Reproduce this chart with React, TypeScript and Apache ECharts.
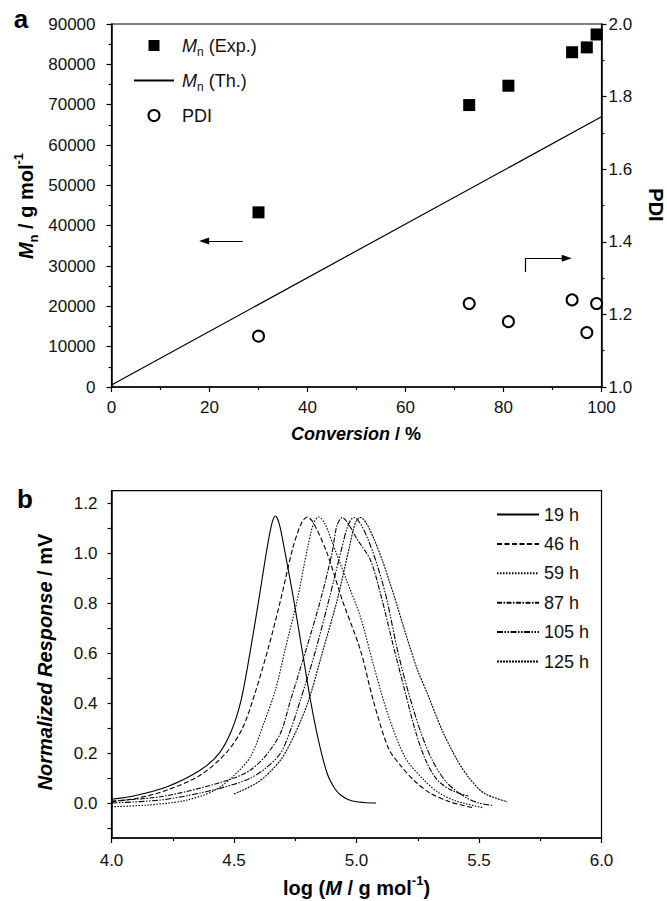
import React, { useEffect, useRef } from 'react';
import * as echarts from 'echarts';

const FONT = '"Liberation Sans", Arial, Helvetica, sans-serif';

// ---- Panel a data ----
const conversion = [30, 73, 81, 94, 97, 99];
const mnExp = [43300, 69900, 74700, 83000, 84200, 87400];
const pdi = [1.14, 1.23, 1.18, 1.24, 1.15, 1.23];
const mnThConversion = [0, 100];
const mnTh = [500, 67000];
// annotation arrows (data coordinates)
const leftArrowX = [26.8, 18.9];
const leftArrowY = 36200;
const rightArrowX = [84.5, 92.9];
const rightArrowY = [28500, 31900];

// ---- Panel b data: log(M) vs normalized response ----
const gpcNames = ['19 h', '46 h', '59 h', '87 h', '105 h', '125 h'];
const gpc19h = [[4.0,0.015],[4.09,0.028],[4.227,0.065],[4.363,0.132],[4.44,0.2],[4.49,0.29],[4.529,0.412],[4.565,0.6],[4.601,0.812],[4.635,1.02],[4.655,1.12],[4.669,1.149],[4.684,1.12],[4.705,1.02],[4.744,0.812],[4.78,0.6],[4.812,0.412],[4.845,0.25],[4.88,0.119],[4.91,0.06],[4.935,0.032],[4.976,0.01],[5.03,0.002],[5.08,0.0]];
const gpc46h = [[4.0,0.005],[4.1,0.018],[4.227,0.052],[4.363,0.112],[4.472,0.205],[4.535,0.3],[4.581,0.425],[4.64,0.62],[4.69,0.812],[4.74,1.02],[4.775,1.12],[4.799,1.145],[4.825,1.12],[4.88,1.0],[4.942,0.812],[5.016,0.612],[5.068,0.412],[5.13,0.22],[5.18,0.15],[5.233,0.092],[5.3,0.04],[5.38,0.005],[5.48,-0.02]];
const gpc59h = [[4.0,-0.015],[4.15,-0.008],[4.3,0.01],[4.42,0.05],[4.5,0.11],[4.567,0.185],[4.622,0.32],[4.669,0.452],[4.71,0.62],[4.758,0.812],[4.8,1.02],[4.825,1.12],[4.846,1.145],[4.87,1.12],[4.91,1.02],[4.96,0.89],[5.016,0.745],[5.07,0.55],[5.13,0.35],[5.2,0.18],[5.275,0.092],[5.33,0.045],[5.4,0.01],[5.52,-0.02]];
const gpc87h = [[4.0,0.008],[4.2,0.025],[4.363,0.06],[4.5,0.1],[4.567,0.132],[4.63,0.19],[4.69,0.28],[4.731,0.412],[4.79,0.6],[4.853,0.812],[4.9,1.0],[4.92,1.11],[4.942,1.143],[4.965,1.12],[5.0,1.06],[5.057,0.972],[5.1,0.83],[5.15,0.63],[5.2,0.439],[5.24,0.29],[5.282,0.172],[5.33,0.092],[5.39,0.05],[5.457,0.028]];
const gpc105h = [[4.0,0.0],[4.2,0.012],[4.363,0.04],[4.5,0.075],[4.567,0.1],[4.63,0.14],[4.69,0.2],[4.73,0.29],[4.771,0.412],[4.83,0.6],[4.887,0.812],[4.94,1.02],[4.965,1.11],[4.989,1.143],[5.015,1.12],[5.045,1.06],[5.078,0.972],[5.12,0.83],[5.17,0.6],[5.213,0.439],[5.26,0.29],[5.309,0.172],[5.37,0.08],[5.45,0.02],[5.5,0.0],[5.56,-0.011]];
const gpc125h = [[4.5,0.036],[4.6,0.085],[4.69,0.172],[4.75,0.28],[4.805,0.412],[4.86,0.6],[4.921,0.812],[4.97,1.02],[4.995,1.12],[5.016,1.143],[5.04,1.12],[5.07,1.06],[5.105,0.972],[5.15,0.84],[5.2,0.68],[5.25,0.53],[5.289,0.439],[5.35,0.29],[5.411,0.172],[5.46,0.1],[5.52,0.04],[5.615,0.005]];
const gpcCurves = [gpc19h, gpc46h, gpc59h, gpc87h, gpc105h, gpc125h];
const gpcDash: any[] = ['solid', [5, 2.5], [1.5, 1.5], [5, 1.5, 1.5, 1.5], [6, 1.5, 1.5, 1.5, 1.5, 1.5], [2, 1]];

const respLabelValues = [0, 0.2, 0.4, 0.6, 0.8, 1.0, 1.2];
const respTickValues = [-0.1, 0, 0.1, 0.2, 0.3, 0.4, 0.5, 0.6, 0.7, 0.8, 0.9, 1.0, 1.1, 1.2];

const BLACK = '#000';

const axisLineStyle = { show: true, onZero: false, lineStyle: { color: BLACK, width: 1.5 } };
const tickStyle = { show: true, length: 5, lineStyle: { color: BLACK, width: 1.2 } };
const minorStyle = { show: true, splitNumber: 2, length: 3, lineStyle: { color: BLACK, width: 1.2 } };
const labelBase = { color: '#111', fontSize: 17, fontFamily: FONT };

const legendRich = {
  it: { fontStyle: 'italic', fontSize: 18, fontFamily: FONT, color: '#111', lineHeight: 24 },
  sub: { fontSize: 12, fontFamily: FONT, color: '#111', verticalAlign: 'bottom', lineHeight: 12 },
  n: { fontSize: 18, fontFamily: FONT, color: '#111', lineHeight: 24 },
};

const titleRich = (size: number) => ({
  bi: { fontStyle: 'italic', fontWeight: 'bold', fontSize: size, fontFamily: FONT, fill: BLACK, lineHeight: size + 8 },
  b: { fontWeight: 'bold', fontSize: size, fontFamily: FONT, fill: BLACK, lineHeight: size + 8 },
  sub: { fontWeight: 'bold', fontSize: Math.round(size * 0.65), fontFamily: FONT, fill: BLACK, verticalAlign: 'bottom', lineHeight: Math.round(size * 0.65) },
  sup: { fontWeight: 'bold', fontSize: Math.round(size * 0.65), fontFamily: FONT, fill: BLACK, verticalAlign: 'top', lineHeight: Math.round(size * 0.65) },
});

function buildOption(): any {
  const fmt1 = (v: number) => v.toFixed(1);
  const fmt0 = (v: number) => String(Math.round(v));
  const hiddenSymbol = { opacity: 0, color: 'transparent', borderWidth: 0 };
  return {
    animation: false,
    backgroundColor: '#fff',
    grid: [
      { left: 111.5, top: 24, width: 490, height: 363, show: true, borderColor: BLACK, borderWidth: 1.2, backgroundColor: 'transparent' },
      { left: 111.5, top: 490.7, width: 490, height: 347.3, show: true, borderColor: BLACK, borderWidth: 1.2, backgroundColor: 'transparent' },
    ],
    xAxis: [
      {
        gridIndex: 0, type: 'value', min: 0, max: 100, interval: 20,
        axisLine: axisLineStyle, axisTick: tickStyle, minorTick: minorStyle, splitLine: { show: false },
        axisLabel: { ...labelBase, margin: 12, formatter: fmt0 },
      },
      {
        gridIndex: 1, type: 'value', min: 4, max: 6, interval: 0.5,
        axisLine: axisLineStyle, axisTick: tickStyle, minorTick: minorStyle, splitLine: { show: false },
        axisLabel: { ...labelBase, margin: 14, formatter: fmt1 },
      },
    ],
    yAxis: [
      {
        gridIndex: 0, type: 'value', position: 'left', min: 0, max: 90000, interval: 10000,
        axisLine: axisLineStyle, axisTick: tickStyle, minorTick: minorStyle, splitLine: { show: false },
        axisLabel: { ...labelBase, margin: 16, formatter: fmt0 },
      },
      {
        gridIndex: 0, type: 'value', position: 'right', min: 1.0, max: 2.0, interval: 0.2,
        axisLine: axisLineStyle, axisTick: tickStyle, minorTick: minorStyle, splitLine: { show: false },
        axisLabel: { ...labelBase, margin: 7, formatter: fmt1 },
      },
      {
        gridIndex: 1, type: 'value', position: 'left', min: -0.14, max: 1.25,
        axisLine: axisLineStyle,
        axisTick: { ...tickStyle, length: 4, customValues: respTickValues },
        minorTick: { show: false }, splitLine: { show: false },
        axisLabel: { ...labelBase, margin: 14, formatter: fmt1, customValues: respLabelValues },
      },
    ],
    legend: [
      {
        orient: 'vertical', left: 128, top: 28.5, itemWidth: 40, itemHeight: 11, itemGap: 11,
        selectedMode: false,
        textStyle: { fontSize: 18, fontFamily: FONT, color: '#111', lineHeight: 24, padding: [0, 0, 0, 3], rich: legendRich },
        data: [
          { name: 'Mn (Exp.)', icon: 'path://M0,0H10V10H0Z' },
          { name: 'Mn (Th.)', itemStyle: hiddenSymbol },
          { name: 'PDI' },
        ],
        formatter: (name: string) => {
          if (name === 'Mn (Exp.)') return '{it|M}{sub|n}{n| (Exp.)}';
          if (name === 'Mn (Th.)') return '{it|M}{sub|n}{n| (Th.)}';
          return '{n|PDI}';
        },
      },
      {
        orient: 'vertical', left: 491, top: 499.5, itemWidth: 42, itemHeight: 14, itemGap: 9.4,
        selectedMode: false,
        itemStyle: hiddenSymbol,
        textStyle: { fontSize: 18, fontFamily: FONT, color: '#111', lineHeight: 20 },
        data: gpcNames,
      },
    ],
    graphic: [
      { type: 'text', x: 21, y: 19, style: { text: 'a', font: `bold 26px ${FONT}`, fill: BLACK, align: 'center', verticalAlign: 'middle' } },
      { type: 'text', x: 25, y: 499, style: { text: 'b', font: `bold 26px ${FONT}`, fill: BLACK, align: 'center', verticalAlign: 'middle' } },
      {
        type: 'text', x: 26, y: 206, rotation: Math.PI / 2,
        style: { text: '{bi|M}{sub|n}{b| / g mol}{sup|-1}', rich: titleRich(20), align: 'center', verticalAlign: 'middle', fill: BLACK },
      },
      {
        type: 'text', x: 656, y: 205, rotation: -Math.PI / 2,
        style: { text: '{b|PDI}', rich: titleRich(20), align: 'center', verticalAlign: 'middle', fill: BLACK },
      },
      {
        type: 'text', x: 356, y: 434,
        style: { text: '{bi|Conversion}{b| / %}', rich: titleRich(18), align: 'center', verticalAlign: 'middle', fill: BLACK },
      },
      {
        type: 'text', x: 45, y: 662, rotation: Math.PI / 2,
        style: { text: '{bi|Normalized Response}{b| / mV}', rich: titleRich(20), align: 'center', verticalAlign: 'middle', fill: BLACK },
      },
      {
        type: 'text', x: 356.5, y: 888,
        style: { text: '{b|log (}{bi|M}{b| / g mol}{sup|-1}{b|)}', rich: titleRich(20), align: 'center', verticalAlign: 'middle', fill: BLACK },
      },
    ],
    series: [
      {
        name: 'Mn (Exp.)', type: 'scatter', xAxisIndex: 0, yAxisIndex: 0,
        symbol: 'rect', symbolSize: 12, itemStyle: { color: BLACK, opacity: 1 },
        data: conversion.map((c, i) => [c, mnExp[i]]),
      },
      {
        name: 'Mn (Th.)', type: 'line', xAxisIndex: 0, yAxisIndex: 0,
        symbol: 'none', lineStyle: { color: BLACK, width: 1.2 }, itemStyle: { color: BLACK },
        data: mnThConversion.map((c, i) => [c, mnTh[i]]),
        markLine: {
          silent: true, animation: false, symbol: ['none', 'triangle'], symbolSize: [7, 10],
          label: { show: false }, emphasis: { disabled: true },
          lineStyle: { color: BLACK, width: 1.2, type: 'solid' },
          itemStyle: { color: BLACK },
          data: [
            [{ coord: [leftArrowX[0], leftArrowY] }, { coord: [leftArrowX[1], leftArrowY] }],
            [{ coord: [rightArrowX[0], rightArrowY[0]] }, { coord: [rightArrowX[0], rightArrowY[1]], symbol: 'none' }],
            [{ coord: [rightArrowX[0], rightArrowY[1]] }, { coord: [rightArrowX[1], rightArrowY[1]] }],
          ],
        },
      },
      {
        name: 'PDI', type: 'scatter', xAxisIndex: 0, yAxisIndex: 1,
        symbol: 'emptyCircle', symbolSize: 11, itemStyle: { color: BLACK, borderWidth: 1.3, opacity: 1 },
        data: conversion.map((c, i) => [c, pdi[i]]),
      },
      ...gpcCurves.map((curve, i) => ({
        name: gpcNames[i], type: 'line', xAxisIndex: 1, yAxisIndex: 2,
        symbol: 'none', smooth: 0.3,
        lineStyle: { color: BLACK, width: 1.1, type: gpcDash[i] },
        itemStyle: { color: BLACK },
        data: curve,
      })),
    ],
  };
}

export default function App() {
  const ref = useRef<HTMLDivElement>(null);
  useEffect(() => {
    const chart = echarts.init(ref.current!, null, { renderer: 'svg' });
    chart.setOption(buildOption());
    return () => chart.dispose();
  }, []);
  return (
    <div
      ref={ref}
      style={{ position: 'fixed', left: 0, top: 0, width: 667, height: 901, background: '#fff' }}
    />
  );
}
